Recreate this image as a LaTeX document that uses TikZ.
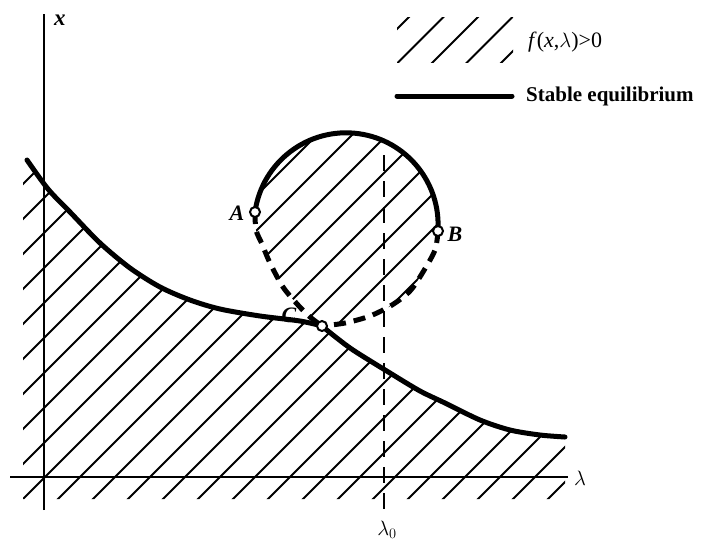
\documentclass[tikz,border=0pt]{standalone}
\usepackage{fontspec}
\setmainfont{Liberation Serif}
\begin{document}
\begin{tikzpicture}[x=1pt,y=-1pt,
  thickcurve/.style={line width=5pt, line cap=round},
  dashcurve/.style={line width=5pt, dash pattern=on 12pt off 8pt},
  hatchline/.style={line width=1.8pt},
  axisline/.style={line width=2.2pt},
  lamdash/.style={line width=2pt, dash pattern=on 16pt off 10pt},
  opencirc/.style={circle, draw, fill=white, line width=2pt, minimum size=10pt, inner sep=0pt},
  lbl/.style={font=\bfseries\itshape\fontsize{22}{24}\selectfont, inner sep=0pt}]
\useasboundingbox (0,0) rectangle (701,542);

% ---- hatching of the lower region
\begin{scope}
  \clip (23,152) -- (27,160) -- plot[smooth] coordinates {(27,160) (48,189) (70,212) (100,243) (130,268) (160,287) (190,300) (220,309) (260,316) (300,321) (322,326)}
        -- plot[smooth] coordinates {(322,326) (333,335) (353,350) (390,373) (420,391) (445,403) (480,420) (510,430) (540,435) (565,437)}
        -- (565,499) -- (23,499) -- cycle;
  \foreach \k in {0,...,26} {
    \pgfmathsetmacro\c{207+35*\k}
    \draw[hatchline] (\c-560,560) -- (\c-60,60);
  }
\end{scope}

% ---- hatching inside the loop
\begin{scope}
  \clip (255,212) arc[start angle=188, end angle=364, radius=92]
        -- plot[smooth] coordinates {(438,231) (435,250) (423,272) (410,291) (392,305) (370,316) (345,323) (322,326)}
        -- plot[smooth] coordinates {(322,326) (310,317) (298,305) (283,287) (270,263) (262,244) (256,230) (255,212)}
        -- cycle;
  \foreach \k in {0,...,26} {
    \pgfmathsetmacro\c{207+35*\k}
    \draw[hatchline] (\c-560,560) -- (\c-60,60);
  }
\end{scope}

% ---- legend hatch
\begin{scope}
  \clip (397,17) rectangle (513,62);
  \foreach \c in {426,460.5,495,529.5,564} {
    \draw[hatchline] (\c-80,80) -- (\c,0);
  }
\end{scope}

% ---- axes
\coordinate (xtop) at (44,14);
\coordinate (xbot) at (44,510);
\coordinate (lleft) at (10,477);
\coordinate (lright) at (568,477);
\draw[axisline] (xbot) -- (xtop);
\draw[axisline] (lleft) -- (lright);
\node[font=\bfseries\itshape\fontsize{23}{24}\selectfont, anchor=west, inner sep=0pt] (xlab) at (54,20) {x};
\node[font=\fontsize{21}{22}\selectfont, anchor=west, inner sep=0pt] (llab) at (574,478) {$\lambda$};

% ---- lambda_0 dashed line
\coordinate (l0top) at (384,155);
\coordinate (l0bot) at (384,516);
\draw[lamdash] (l0top) -- (l0bot);
\node[font=\fontsize{20}{22}\selectfont, inner sep=0pt] (l0lab) at (387,530) {$\lambda_0$};

% ---- stable branches
\draw[thickcurve] plot[smooth] coordinates {(27,160) (48,189) (70,212) (100,243) (130,268) (160,287) (190,300) (220,309) (260,316) (300,321) (322,326)};
\draw[thickcurve] plot[smooth] coordinates {(322,326) (333,335) (353,350) (390,373) (420,391) (445,403) (480,420) (510,430) (540,435) (565,437)};
\draw[thickcurve] (255,212) arc[start angle=188, end angle=364, radius=92];

% ---- unstable branches
\draw[dashcurve] plot[smooth] coordinates {(255,212) (256,230) (262,244) (270,263) (283,287) (298,305) (310,317) (322,326)};
\draw[dashcurve] plot[smooth] coordinates {(438,231) (435,250) (423,272) (410,291) (392,305) (370,316) (345,323) (322,326)};

% ---- points
\node[opencirc] (A) at (255,212) {};
\node[opencirc] (B) at (438,231) {};
\node[opencirc] (C) at (322,326) {};
\node[lbl] (Alab) at (237,213) {A};
\node[lbl] (Blab) at (455,234) {B};
\node[lbl] (Clab) at (289,315) {C};

% ---- legend
\coordinate (lg1) at (397,96);
\coordinate (lg2) at (512,96);
\draw[thickcurve] (lg1) -- (lg2);
\node[anchor=west, font=\fontsize{22}{24}\selectfont, inner sep=0pt] (ftext) at (528,42) {\textit{f}(\textit{x},$\lambda$)>0};
\node[anchor=west, font=\bfseries\fontsize{21}{24}\selectfont, inner sep=0pt] (stext) at (526,96) {Stable equilibrium};
\end{tikzpicture}
\end{document}
